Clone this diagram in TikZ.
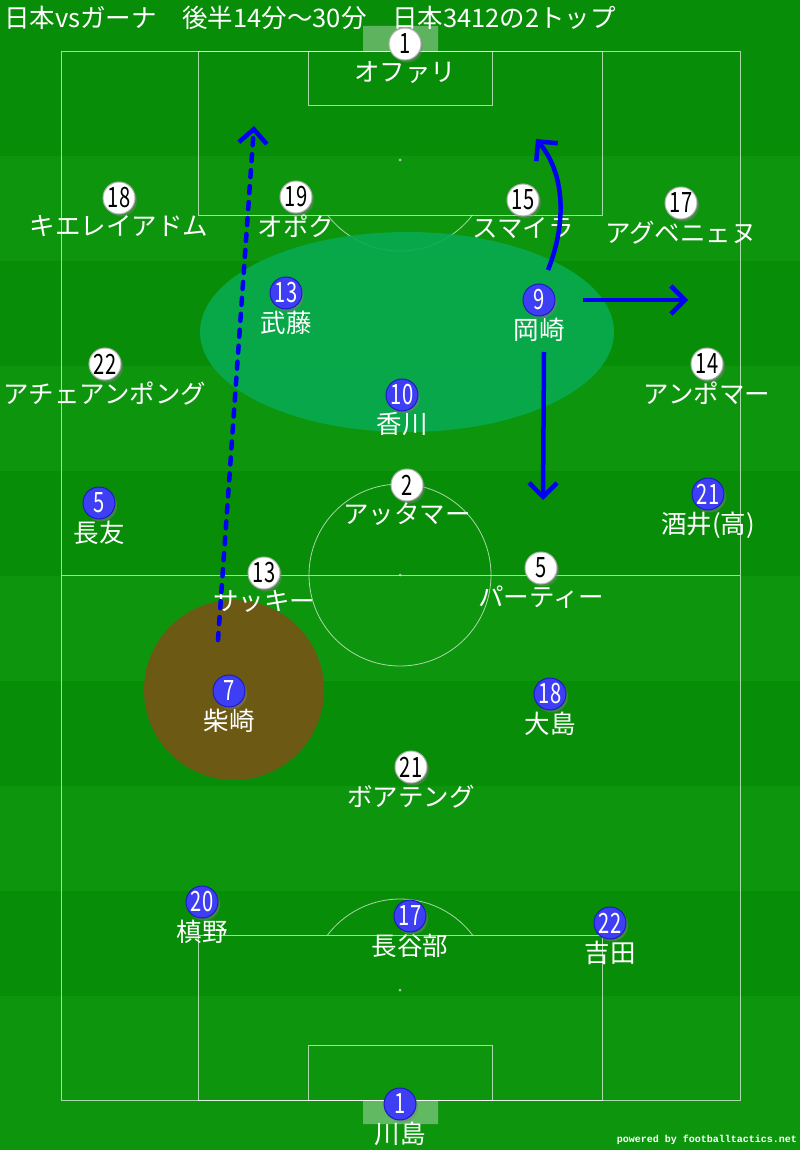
\documentclass[tikz,border=0pt]{standalone}
\usepackage{fontspec}
\setmainfont{Noto Sans CJK JP}
\newfontfamily\numfont[FakeStretch=0.72]{Noto Sans CJK JP}
\newfontfamily\markfont{Liberation Mono}
\usetikzlibrary{positioning,shadows,arrows.meta}

\definecolor{turf}{RGB}{8,141,8}
\definecolor{turflight}{RGB}{13,149,13}
\definecolor{zone}{RGB}{8,170,80}
\definecolor{pressing}{RGB}{108,90,20}
\definecolor{jpblue}{RGB}{62,62,245}
\definecolor{jpedge}{RGB}{28,28,190}
\definecolor{runblue}{RGB}{0,0,245}

\begin{document}
\begin{tikzpicture}[x=1pt, y=-1pt,
	line/.style={draw=white, draw opacity=.65, line width=.8pt},
	jpn/.style={circle, minimum size=32pt, inner sep=0pt, fill=jpblue, draw=jpedge, line width=1pt, text=white,
		font=\numfont\fontsize{28}{28}\selectfont, drop shadow={shadow xshift=2pt, shadow yshift=-2.5pt, opacity=.45}},
	gha/.style={jpn, fill=white, draw=gray!60, text=black},
	pname/.style={text=white, inner sep=0pt, font=\fontsize{25.5}{25.5}\selectfont},
	run/.style={draw=runblue, line width=4.5pt, -{Straight Barb[length=14pt,width=28pt]}}]
		\useasboundingbox (0,0) rectangle (800,1150);
		% field
		\fill[turflight] (0,0) rectangle (800,1150);
		\fill[turf] (0,0) rectangle (800,51);
		\foreach \k in {0,2,...,8}
			\fill[turf] (0,{51+\k*105}) rectangle (800,{156+\k*105});
		\draw[line] (61,51) rectangle (740,1100);
		\draw[line] (61,575) -- (740,575);
		\draw[line] (400,575) circle[radius=91pt];
		\draw[line] (198,51) rectangle (602,215);
		\draw[line] (308,51) rectangle (492,105);
		\draw[line] (327.5,215) arc[start angle=217.2, end angle=322.8, radius=91pt];
		\draw[line] (198,1100) rectangle (602,935);
		\draw[line] (308,1100) rectangle (492,1045);
		\draw[line] (472.5,935) arc[start angle=37.2, end angle=142.8, radius=91pt];
		\fill[white, opacity=.6] (400,575) circle[radius=1.5pt] (400,160) circle[radius=1.5pt] (400,990) circle[radius=1.5pt];
		\fill[white, opacity=.35] (363,26) rectangle (438,51) (363,1100) rectangle (438,1124);
		% zones
		\fill[zone, opacity=.9] (407,332) ellipse[x radius=207pt, y radius=100pt];
		\fill[pressing] (234,690) circle[radius=90pt];

		\node[pname, anchor=west](title) at (4,18) {日本vsガーナ　後半14分～30分　日本3412の2トップ};
		\node[text=white, inner sep=0pt, anchor=east, font=\markfont\bfseries\fontsize{10}{10}\selectfont](credit) at (797,1140) {powered by footballtactics.net};

		% Ghana
		\node[gha](g1) at (405,44) {1};
		\node[pname, below=1pt of g1](g1n) {オファリ};
		\node[gha](g18) at (119,198) {18};
		\node[pname, below=1pt of g18](g18n) {キエレイアドム};
		\node[gha](g19) at (296,197) {19};
		\node[pname, below=1pt of g19](g19n) {オポク};
		\node[gha](g15) at (523,200) {15};
		\node[pname, below=1pt of g15](g15n) {スマイラ};
		\node[gha](g17) at (681,203) {17};
		\node[pname, below=1pt of g17](g17n) {アグベニェヌ};
		\node[gha](g22) at (105,364) {22};
		\node[pname, below=1pt of g22](g22n) {アチェアンポング};
		\node[gha](g14) at (707,364) {14};
		\node[pname, below=1pt of g14](g14n) {アンポマー};
		\node[gha](g2) at (407,485) {2};
		\node[pname, below=1pt of g2](g2n) {アッタマー};
		\node[gha](g13) at (264,573) {13};
		\node[pname, below=1pt of g13](g13n) {サッキー};
		\node[gha](g5) at (541,568) {5};
		\node[pname, below=1pt of g5](g5n) {パーティー};
		\node[gha](g21) at (411,767) {21};
		\node[pname, below=1pt of g21](g21n) {ボアテング};

		% Japan
		\node[jpn](j13) at (286,293) {13};
		\node[pname, below=1pt of j13](j13n) {武藤};
		\node[jpn](j9) at (539,300) {9};
		\node[pname, below=1pt of j9](j9n) {岡崎};
		\node[jpn](j10) at (402,395) {10};
		\node[pname, below=1pt of j10](j10n) {香川};
		\node[jpn](j5) at (99,503) {5};
		\node[pname, below=1pt of j5](j5n) {長友};
		\node[jpn](j21) at (708,494) {21};
		\node[pname, below=1pt of j21](j21n) {酒井(高)};
		\node[jpn](j7) at (229,691) {7};
		\node[pname, below=1pt of j7](j7n) {柴崎};
		\node[jpn](j18) at (550,694) {18};
		\node[pname, below=1pt of j18](j18n) {大島};
		\node[jpn](j20) at (202,902) {20};
		\node[pname, below=1pt of j20](j20n) {槙野};
		\node[jpn](j17) at (410,916) {17};
		\node[pname, below=1pt of j17](j17n) {長谷部};
		\node[jpn](j22) at (610,923) {22};
		\node[pname, below=1pt of j22](j22n) {吉田};
		\node[jpn](j1) at (400,1104) {1};
		\node[pname, below=1pt of j1](j1n) {川島};

		% runs
		\coordinate (runstart) at (218,640);
		\coordinate (runend) at (254,126);
		\draw[run, dash pattern=on 7pt off 9pt, line cap=round] (runstart) -- (runend);
		\coordinate (okaup) at (548,270);
		\coordinate (okatop) at (536,139);
		\draw[run] (okaup) .. controls (566,225) and (566,175) .. (okatop);
		\coordinate (okaside) at (583,300);
		\coordinate (okawide) at (688,300);
		\draw[run] (okaside) -- (okawide);
		\coordinate (okadown) at (544,352);
		\coordinate (okadeep) at (543,500);
		\draw[run] (okadown) -- (okadeep);
\end{tikzpicture}
\end{document}
